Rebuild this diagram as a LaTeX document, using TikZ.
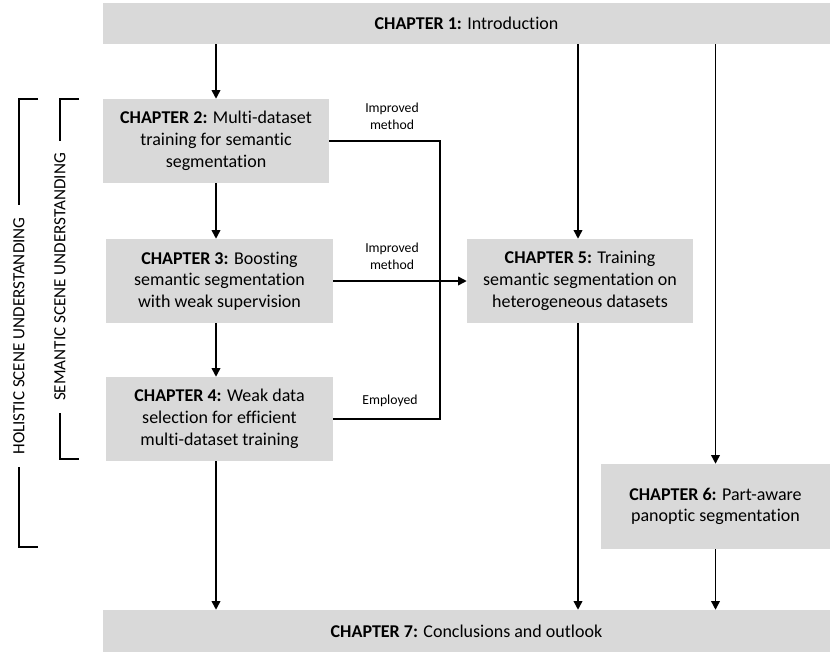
\documentclass[tikz,border=0pt]{standalone}
\usepackage{fontspec}
\setmainfont{Carlito}[Ligatures={NoCommon}]
\usetikzlibrary{arrows.meta,calc}
\definecolor{boxgray}{HTML}{D9D9D9}
\begin{document}
\begin{tikzpicture}[x=0.75pt,y=-0.75pt,
  chbox/.style={fill=boxgray,draw=none,inner sep=0pt,align=center,
    font=\fontsize{13.5}{16.3}\selectfont},
  lbl/.style={inner sep=0pt,align=center,font=\fontsize{10.3}{12.8}\selectfont},
  side/.style={inner sep=0pt,rotate=90,font=\fontsize{12.8}{14}\selectfont},
  conn/.style={line width=1.1pt},
  arr/.style={line width=1.1pt,-{Triangle[width=6.5pt,length=6.5pt]}},
  brk/.style={line width=1.1pt}]
\useasboundingbox (0,0) rectangle (830,656);

\node[chbox,minimum width=727*0.75pt,minimum height=41*0.75pt] (ch1) at (466.5,23.5)
  {\textbf{CHAPTER 1:} Introduction};
\node[chbox,minimum width=226*0.75pt,minimum height=84*0.75pt] (ch2) at (216,141)
  {\textbf{CHAPTER 2:} Multi-dataset\\training for semantic\\segmentation};
\node[chbox,minimum width=227*0.75pt,minimum height=84*0.75pt] (ch3) at (219.5,281)
  {\textbf{CHAPTER 3:} Boosting\\semantic segmentation\\with weak supervision};
\node[chbox,minimum width=227*0.75pt,minimum height=84*0.75pt] (ch4) at (219.5,419)
  {\textbf{CHAPTER 4:} Weak data\\selection for efficient\\multi-dataset training};
\node[chbox,minimum width=226*0.75pt,minimum height=84*0.75pt] (ch5) at (580,281)
  {\textbf{CHAPTER 5:} Training\\semantic segmentation on\\heterogeneous datasets};
\node[chbox,minimum width=229*0.75pt,minimum height=85*0.75pt] (ch6) at (715.5,506.5)
  {\textbf{CHAPTER 6:} Part-aware\\panoptic segmentation};
\node[chbox,minimum width=727*0.75pt,minimum height=42*0.75pt] (ch7) at (466.5,631)
  {\textbf{CHAPTER 7:} Conclusions and outlook};

% column coordinates
\coordinate (c5x) at (578,0);
\coordinate (bus) at (440,0);

% vertical arrows
\draw[arr] (ch1.south -| ch2.north) -- (ch2.north);
\draw[arr] (ch2.south) -- (ch2.south |- ch3.north);
\draw[arr] (ch2.south |- ch3.south) -- (ch2.south |- ch4.north);
\draw[arr] (ch2.south |- ch4.south) -- (ch2.south |- ch7.north);
\draw[arr] (ch1.south -| c5x) -- (ch5.north -| c5x);
\draw[arr] (ch5.south -| c5x) -- (ch7.north -| c5x);
\draw[arr] (ch1.south -| ch6.north) -- (ch6.north);
\draw[arr] (ch6.south) -- (ch6.south |- ch7.north);

% side connectors
\draw[conn] (ch2.east) -- (ch2.east -| bus) -- (ch4.east -| bus) -- (ch4.east);
\draw[arr] (ch3.east) -- (ch5.west);

\node[lbl] (l1) at (392,116.5) {Improved\\method};
\node[lbl] (l2) at (392,256.5) {Improved\\method};
\node[lbl] (l3) at (390,401) {Employed};

% brackets
\node[side] (hol) at (19,336) {HOLISTIC SCENE UNDERSTANDING};
\node[side] (sem) at (60,277) {SEMANTIC SCENE UNDERSTANDING};
\draw[brk] (38,99) -- (19,99) -- (19,205);
\draw[brk] (19,467) -- (19,547) -- (38,547);
\draw[brk] (79,99) -- (60,99) -- (60,141);
\draw[brk] (60,413) -- (60,459) -- (79,459);
\end{tikzpicture}
\end{document}
